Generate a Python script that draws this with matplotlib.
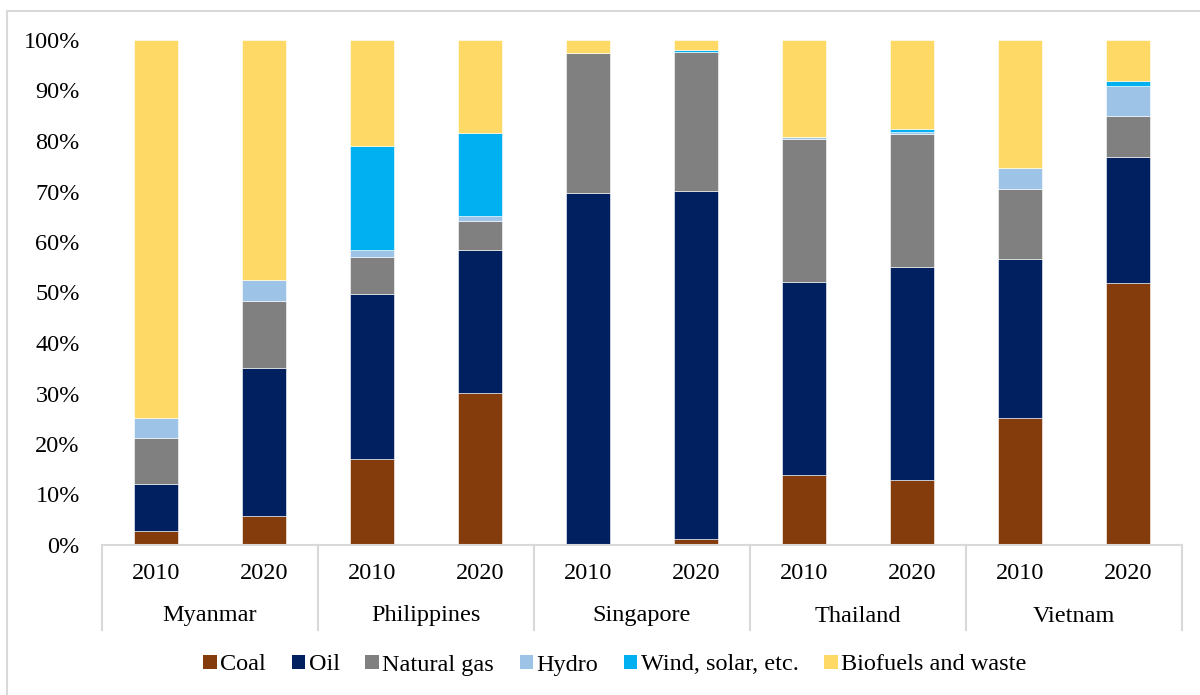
import numpy as np
import matplotlib.pyplot as plt
from matplotlib.lines import Line2D
from matplotlib.patches import Patch

plt.rcParams['font.family'] = ['Liberation Serif', 'DejaVu Serif']

countries = ["Myanmar", "Philippines", "Singapore", "Thailand", "Vietnam"]
years = ["2010", "2020"]

# shares of total energy supply, percent (2010, 2020 for each country)
coal = [2.8, 5.8, 17.0, 30.1, 0.0, 1.2, 13.8, 12.9, 25.1, 51.9]
oil = [9.2, 29.2, 32.7, 28.3, 69.8, 68.9, 38.2, 42.2, 31.5, 24.9]
gas = [9.2, 13.4, 7.3, 5.7, 27.7, 27.6, 28.3, 26.3, 13.9, 8.1]
hydro = [3.9, 4.0, 1.5, 1.1, 0.0, 0.0, 0.4, 0.4, 4.1, 5.9]
wind = [0.0, 0.0, 20.5, 16.3, 0.0, 0.3, 0.1, 0.5, 0.0, 1.1]
bio = [74.9, 47.6, 21.0, 18.5, 2.5, 2.0, 19.2, 17.7, 25.4, 8.1]

series = [("Coal", coal, "#843C0C"),
          ("Oil", oil, "#002060"),
          ("Natural gas", gas, "#808080"),
          ("Hydro", hydro, "#9DC3E6"),
          ("Wind, solar, etc.", wind, "#00B0F0"),
          ("Biofuels and waste", bio, "#FFD966")]

FS = 17.5

fig = plt.figure(figsize=(12, 6.95), dpi=100)
ax = fig.add_axes([102/1200, 1 - 545/695, 1080/1200, 505/695])

x = np.arange(len(coal))
bottom = np.zeros(len(coal))
for name, vals, col in series:
    vals = np.array(vals)
    ax.bar(x, vals, 0.4, bottom=bottom, color=col, label=name,
           edgecolor="white", linewidth=0.4)
    bottom += vals

ax.set_xlim(-0.5, len(coal) - 0.5)
ax.set_ylim(0, 100)
ax.set_yticks(np.arange(0, 101, 10))
ax.set_yticklabels([f"{v}%" for v in range(0, 101, 10)], fontsize=FS)
ax.tick_params(axis="y", length=0, pad=16)

ax.set_xticks(x)
ax.set_xticklabels(years * len(countries), fontsize=FS)
ax.tick_params(axis="x", length=0, pad=13)

for s in ["top", "right", "left"]:
    ax.spines[s].set_visible(False)
ax.spines["bottom"].set_color("#d9d9d9")
ax.spines["bottom"].set_linewidth(1.5)

# country labels and group separators under the axis
trans = ax.get_xaxis_transform()
for i, c in enumerate(countries):
    ax.text(2 * i + 0.5, -71/505, c, transform=trans, ha="center", va="center",
            fontsize=FS)
for b in np.arange(-0.5, len(coal), 2):
    ax.add_line(Line2D([b, b], [0, -85/505], transform=trans, color="#d9d9d9",
                       linewidth=1.5, clip_on=False))

handles = [Patch(facecolor=col, label=name) for name, _, col in series]
fig.legend(handles=handles, loc="center", bbox_to_anchor=(615/1200, 1 - 665/695),
           ncol=6, frameon=False, fontsize=FS, handlelength=0.55, handleheight=0.55,
           handletextpad=0.15, columnspacing=1.05)

# chart frame
fig.add_artist(Line2D([7/1200, 1], [1 - 11/695] * 2, transform=fig.transFigure,
                      color="#d9d9d9", linewidth=1.5))
fig.add_artist(Line2D([7/1200] * 2, [0, 1 - 11/695], transform=fig.transFigure,
                      color="#d9d9d9", linewidth=1.5))

fig.savefig("out.png", dpi=100)
